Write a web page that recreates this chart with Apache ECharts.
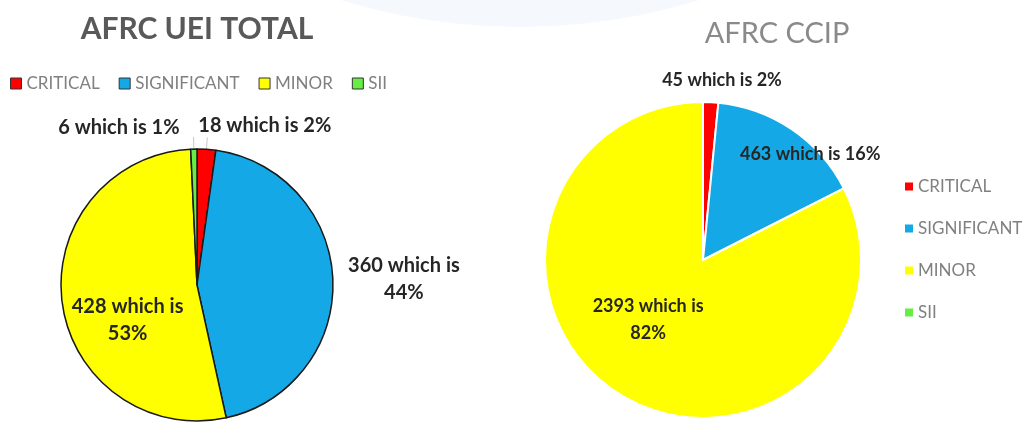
<!DOCTYPE html>
<html><head><meta charset="utf-8">
<script src="https://cdn.jsdelivr.net/npm/echarts@6/dist/echarts.min.js"></script>
<style>html,body{margin:0;padding:0;background:#fff}#c{width:1026px;height:424px}</style>
</head><body><div id="c"></div>
<script>
// ---- data ----
const categories = ['CRITICAL', 'SIGNIFICANT', 'MINOR', 'SII'];
const colors = ['#ff0000', '#14a9e6', '#ffff00', '#66ee44'];
const ueiValues = [18, 360, 428, 6];
const ueiPercents = [2, 44, 53, 1];
const ccipValues = [45, 463, 2393, 0];
const ccipPercents = [2, 16, 82, 0];
const titles = ['AFRC UEI TOTAL', 'AFRC CCIP'];

const FONT = 'Lato';
const labelText = (v, p, wrap) => wrap ? `{a|${v} which is}\n{a|${p}%}` : `${v} which is ${p}%`;

function makeLabel(size, blockWidth) {
  return {fontFamily: FONT, fontWeight: 'bold', fontSize: size, color: '#262626',
    rich: {a: {fontFamily: FONT, fontWeight: 'bold', fontSize: size, color: '#262626',
      width: blockWidth, align: 'center', lineHeight: 27}}};
}

// per-item label settings (layout only)
const ueiLabelCfg = [
  {position: 'outside', wrap: false, line: true, len: 12, len2: 0},
  {position: 'outside', wrap: true, line: false, len: 8, len2: 4},
  {position: 'inside', wrap: true, line: false},
  {position: 'outside', wrap: false, line: true, len: 12, len2: 0}
];
const ueiOffsets = [[-14, -12], [-3, 0], [1, 26], [-9, -9]];
const ccipLabelCfg = [
  {position: 'outside', wrap: false, line: false, len: 10, len2: 0},
  {position: 'inside', wrap: false, line: false},
  {position: 'inside', wrap: true, line: false},
  {position: 'inside', wrap: false, line: false, hide: true}
];
const ccipOffsets = [[-54, -12], [61, -38], [-12, -10], [0, 0]];

function buildData(values, percents, cfg) {
  return categories.map((name, i) => {
    const c = cfg[i];
    return {
      name, value: values[i],
      itemStyle: {color: colors[i]},
      label: {show: !c.hide, position: c.position, formatter: labelText(values[i], percents[i], c.wrap)},
      labelLine: {show: !!c.line, length: c.len || 0, length2: c.len2 || 0}
    };
  });
}

const chart = echarts.init(document.getElementById('c'), null, {renderer: 'canvas'});
chart.setOption({
  backgroundColor: '#ffffff',
  animation: false,
  color: colors,
  graphic: [{
    type: 'circle', silent: true, z: -10,
    shape: {cx: 520, cy: -586, r: 613},
    style: {fill: '#f5f8fd'}
  }],
  title: [
    {text: titles[0], left: 192, top: 9, textAlign: 'center',
     textStyle: {fontFamily: FONT, fontWeight: 'bold', fontSize: 30, color: '#595959'}},
    {text: titles[1], left: 772, top: 14, textAlign: 'center',
     textStyle: {fontFamily: FONT, fontWeight: 'normal', fontSize: 29, color: '#8a8a8a'}}
  ],
  legend: [
    {data: categories, orient: 'horizontal', left: 5, top: 70, icon: 'rect',
     itemWidth: 11, itemHeight: 11, itemGap: 19,
     itemStyle: {borderColor: '#333', borderWidth: 1},
     textStyle: {fontFamily: FONT, fontSize: 17, color: '#808080'}},
    {data: categories, orient: 'vertical', left: 900, top: 173, icon: 'rect',
     itemWidth: 8, itemHeight: 8, itemGap: 25,
     itemStyle: {borderWidth: 0},
     textStyle: {fontFamily: FONT, fontSize: 17, color: '#808080'}}
  ],
  series: [
    {
      name: titles[0], type: 'pie', center: [197, 285], radius: 136,
      startAngle: 90, clockwise: true, avoidLabelOverlap: false,
      itemStyle: {borderColor: '#1a1a1a', borderWidth: 1.5},
      label: makeLabel(20, 114),
      labelLine: {lineStyle: {color: '#c8c8c8', width: 1}},
      emphasis: {disabled: true},
      labelLayout: p => ({dx: ueiOffsets[p.dataIndex][0], dy: ueiOffsets[p.dataIndex][1]}),
      data: buildData(ueiValues, ueiPercents, ueiLabelCfg)
    },
    {
      name: titles[1], type: 'pie', center: [703, 260], radius: 158,
      startAngle: 90, clockwise: true, avoidLabelOverlap: false,
      itemStyle: {borderColor: '#ffffff', borderWidth: 2},
      label: makeLabel(18, 116),
      emphasis: {disabled: true},
      labelLayout: p => ({dx: ccipOffsets[p.dataIndex][0], dy: ccipOffsets[p.dataIndex][1]}),
      data: buildData(ccipValues, ccipPercents, ccipLabelCfg)
    }
  ]
});
</script></body></html>
